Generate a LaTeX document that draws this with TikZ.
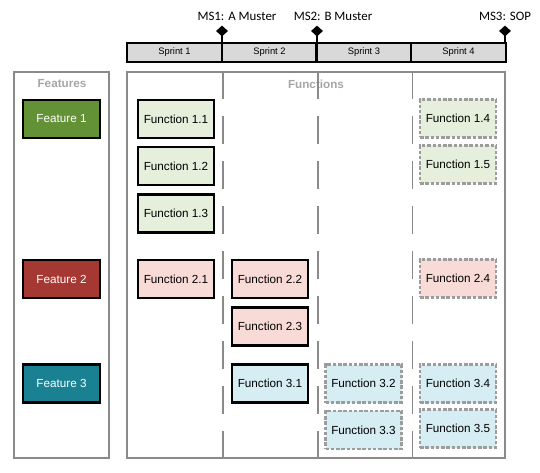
\documentclass[tikz,border=0pt]{standalone}
\usepackage{fontspec}
\setmainfont{Liberation Sans}
\newfontfamily\msfont{Carlito}
\usepackage{tikz}
\usetikzlibrary{
  positioning,
  shapes.geometric
}
\definecolor{FtGreen}{HTML}{639236}
\definecolor{FtRed}{HTML}{A53833}
\definecolor{FtTeal}{HTML}{1A8193}
\definecolor{FtGreenFill}{HTML}{E6EFDB}
\definecolor{FtRedFill}{HTML}{F8DBD7}
\definecolor{FtTealFill}{HTML}{D6EDF4}
\definecolor{FtFrame}{HTML}{8A8A8A}
\definecolor{FtTitle}{HTML}{A6A6A6}
\definecolor{FtSprint}{HTML}{D9D9D9}
\tikzset{
  every node/.style = {font=\fontsize{10}{12}\selectfont, text=black},
  lane frame/.style = {
    draw=FtFrame,
    line width=1.5pt,
    inner sep=0pt
  },
  lane title/.style = {
    font=\fontsize{10}{12}\selectfont\bfseries,
    text=FtTitle
  },
  lane divider/.style = {
    draw=FtFrame,
    line width=1.5pt,
    dash pattern=on 0.85cm off 0.5cm
  },
  sprint cell/.style = {
    draw=black,
    fill=FtSprint,
    line width=2pt,
    minimum width=2.84cm,
    minimum height=0.57cm,
    inner sep=0pt,
    font=\fontsize{8}{9}\selectfont
  },
  milestone/.style = {
    diamond,
    fill=black,
    inner sep=0pt,
    minimum width=0.36cm,
    minimum height=0.33cm
  },
  milestone label/.style = {
    font=\msfont\fontsize{11}{13}\selectfont
  },
  tick line/.style = {draw=black, line width=2pt},
  feature box/.style = {
    draw=black,
    line width=2.4pt,
    minimum width=2.31cm,
    minimum height=1.14cm,
    inner sep=0pt,
    text=white
  },
  feature green/.style = {feature box, fill=FtGreen},
  feature red/.style = {feature box, fill=FtRed},
  feature teal/.style = {feature box, fill=FtTeal},
  func box/.style = {
    draw=black,
    line width=2.4pt,
    minimum width=2.28cm,
    minimum height=1.14cm,
    inner sep=0pt
  },
  func open/.style = {
    func box,
    draw=FtFrame!85,
    line width=1.8pt,
    dash pattern=on 3pt off 1.5pt
  },
  func green/.style = {func box, fill=FtGreenFill},
  func red/.style = {func box, fill=FtRedFill},
  func teal/.style = {func box, fill=FtTealFill},
}

\begin{document}
\begin{tikzpicture}[x=0.3mm,y=-0.3mm]
  \useasboundingbox (0,0) rectangle (540,473);

  % sprint bar and milestones
  \node[sprint cell] (sprint1) at (174.5,52.5) {Sprint 1};
  \node[sprint cell] (sprint2) at (269.5,52.5) {Sprint 2};
  \node[sprint cell] (sprint3) at (364.0,52.5) {Sprint 3};
  \node[sprint cell] (sprint4) at (458.5,52.5) {Sprint 4};

  \node[milestone] (ms1) at (222,31) {};
  \node[milestone] (ms2) at (317,31) {};
  \node[milestone] (ms3) at (505,31) {};
  \draw[tick line] (ms1.center) -- (ms1 |- sprint1.north);
  \draw[tick line] (ms2.center) -- (ms2 |- sprint2.north);
  \draw[tick line] (ms3.center) -- (ms3 |- sprint4.north);
  \node[milestone label] (ms1 text) at (237,16) {MS1: A Muster};
  \node[milestone label] (ms2 text) at (333,16) {MS2: B Muster};
  \node[milestone label] (ms3 text) at (505,16) {MS3: SOP};

  % lanes
  \node[lane frame, minimum width=2.85cm, minimum height=11.58cm] (features) at (61.5,265) {};
  \node[lane frame, minimum width=11.34cm, minimum height=11.58cm] (functions) at (316,265) {};
  \node[lane title] (features title) at (62,84) {Features};
  \node[lane title] (functions title) at (316,84) {Functions};
  \draw[lane divider] (sprint1.east |- functions.north) -- (sprint1.east |- functions.south);
  \draw[lane divider] (sprint2.east |- functions.north) -- (sprint2.east |- functions.south);
  \draw[lane divider] (sprint3.east |- functions.north) -- (sprint3.east |- functions.south);

  % features
  \node[feature green] (feat1) at (61.5,119) {Feature 1};
  \node[feature red] (feat2) at (61.5,279) {Feature 2};
  \node[feature teal] (feat3) at (61.5,383.5) {Feature 3};

  % functions, sprint 1
  \node[func green] (fn11) at (176,119) {Function 1.1};
  \node[func green] (fn12) at (176,166) {Function 1.2};
  \node[func green] (fn13) at (176,213.5) {Function 1.3};
  \node[func red] (fn21) at (176,279) {Function 2.1};
  % sprint 2
  \node[func red] (fn22) at (270,279) {Function 2.2};
  \node[func red] (fn23) at (270,326.5) {Function 2.3};
  \node[func teal] (fn31) at (270,383.5) {Function 3.1};
  % sprint 3
  \node[func open, fill=FtTealFill] (fn32) at (363.5,383.5) {Function 3.2};
  \node[func open, fill=FtTealFill] (fn33) at (363.5,430) {Function 3.3};
  % sprint 4
  \node[func open, fill=FtGreenFill] (fn14) at (458,118.5) {Function 1.4};
  \node[func open, fill=FtGreenFill] (fn15) at (458,164.5) {Function 1.5};
  \node[func open, fill=FtRedFill] (fn24) at (458,278.5) {Function 2.4};
  \node[func open, fill=FtTealFill] (fn34) at (458,383.5) {Function 3.4};
  \node[func open, fill=FtTealFill] (fn35) at (458,428.5) {Function 3.5};
\end{tikzpicture}
\end{document}
